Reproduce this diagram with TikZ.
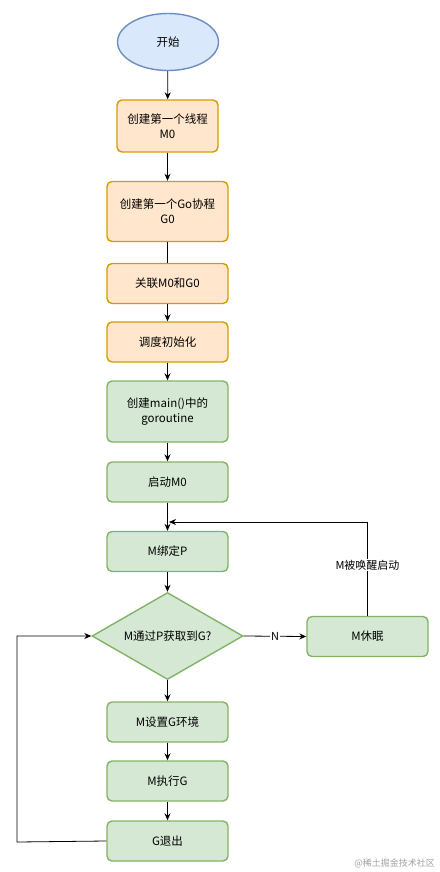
\documentclass[tikz,border=0pt]{standalone}
\usepackage{fontspec}
\setmainfont{Noto Sans CJK SC}
\usetikzlibrary{shapes.geometric,arrows.meta}
\definecolor{ofill}{HTML}{FFE6CC}
\definecolor{odraw}{HTML}{D79B00}
\definecolor{gfill}{HTML}{D5E8D4}
\definecolor{gdraw}{HTML}{82B366}
\definecolor{bfill}{HTML}{DAE8FC}
\definecolor{bdraw}{HTML}{6C8EBF}
\definecolor{wmark}{HTML}{A0A0A0}
\tikzset{
  base/.style={draw, line width=1.4pt, inner sep=0pt, align=center, font=\fontsize{11.5}{15}\selectfont},
  obox/.style={base, rectangle, rounded corners=5pt, fill=ofill, draw=odraw, minimum width=121pt, minimum height=40pt},
  gbox/.style={base, rectangle, rounded corners=5pt, fill=gfill, draw=gdraw, minimum width=121pt, minimum height=40pt},
  startnode/.style={base, ellipse, fill=bfill, draw=bdraw, minimum width=101pt, minimum height=57pt},
  decision/.style={base, diamond, aspect=1.74, fill=gfill, draw=gdraw, minimum width=151pt, minimum height=87pt},
  arr/.style={draw, line width=0.8pt, -{Stealth[length=7pt,width=6pt]}},
  plain/.style={draw, line width=0.8pt},
  lbl/.style={fill=white, inner sep=1pt, font=\fontsize{11}{13}\selectfont}
}
\begin{document}
\begin{tikzpicture}[x=1pt,y=-1pt]
\useasboundingbox (0,0) rectangle (439,872);
\node[startnode] (start) at (168,42) {开始};
\node[obox, minimum width=101pt, minimum height=52pt] (m0) at (167.5,126) {创建第一个线程\\M0};
\node[obox, minimum height=60pt] (g0) at (167.5,211.5) {创建第一个Go协程\\G0};
\node[obox] (link) at (167.5,283.5) {关联M0和G0};
\node[obox] (sched) at (167.5,342) {调度初始化};
\node[gbox, minimum height=61pt] (main) at (167.5,411.5) {创建main()中的\\goroutine};
\node[gbox] (startm) at (167.5,482) {启动M0};
\node[gbox] (bind) at (167.5,551.5) {M绑定P};
\node[decision] (dia) at (167.5,636) {M通过P获取到G?};
\node[gbox] (sleep) at (367.5,636.5) {M休眠};
\node[gbox] (setenv) at (167.5,722) {M设置G环境};
\node[gbox] (exec) at (167.5,781) {M执行G};
\node[gbox] (gexit) at (167.5,841) {G退出};
\node[font=\fontsize{9}{11}\selectfont, text=wmark, anchor=east, inner sep=0pt] (wm) at (435,863) {@稀土掘金技术社区};

\coordinate (fb) at (169,522);
\coordinate (loopc) at (17,842);

\draw[arr] (start) -- (m0);
\draw[arr] (m0) -- (g0);
\draw[plain] (g0) -- (link);
\draw[arr] (link) -- (sched);
\draw[arr] (sched) -- (main);
\draw[arr] (main) -- (startm);
\draw[arr] (startm) -- (bind);
\draw[arr] (bind) -- (dia);
\draw[arr] (dia.east) -- node[lbl] {N} (sleep.west);
\draw[arr] (sleep.north) |- node[lbl, pos=0.27] {M被唤醒启动} (fb);
\draw[arr] (dia.south) -- (setenv);
\draw[arr] (setenv) -- (exec);
\draw[arr] (exec) -- (gexit);
\draw[arr] (gexit.west) -- (loopc) |- (dia.west);
\end{tikzpicture}
\end{document}
